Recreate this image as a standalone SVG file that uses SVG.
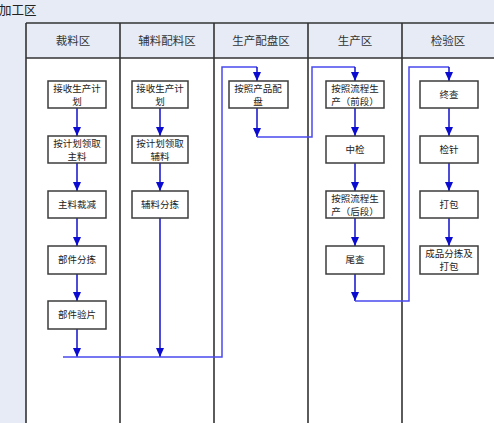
<svg xmlns="http://www.w3.org/2000/svg" width="494" height="423" viewBox="0 0 494 423">
<defs>
<marker id="ahd" markerUnits="userSpaceOnUse" markerWidth="9" markerHeight="8" refX="9" refY="4" orient="auto" viewBox="0 0 9 8"><path d="M0,0 L9,4 L0,8 Z" fill="#0a0ad0"/></marker>
</defs>
<style>
.box{fill:#fff;stroke:#3c3c3c;stroke-width:1.5}
.t{font-family:"Noto Sans CJK SC","Noto Sans",sans-serif;font-size:9.5px;fill:#222;text-anchor:middle}
.h{font-family:"Noto Sans CJK SC","Noto Sans",sans-serif;font-size:11.5px;fill:#333;text-anchor:middle}
.lane{stroke:#333;stroke-width:1.6;fill:none}
.a{stroke:#1010c8;stroke-width:1.5;fill:none;marker-end:url(#ahd)}
.c{stroke:#4a4aee;stroke-width:1.5;fill:none}
</style>
<rect x="0" y="0" width="494" height="423" fill="#fff"/>
<rect x="0" y="0" width="494" height="23" fill="#e6ebf6"/>
<rect x="0" y="23" width="26" height="400" fill="#e6ebf6"/>
<rect x="26" y="23" width="468" height="35" fill="#e6ebf6"/>
<text x="-1" y="15" font-family="'Noto Sans CJK SC',sans-serif" font-size="12.5" fill="#222">加工区</text>
<g id="lanes">
<line class="lane" x1="26" y1="23" x2="494" y2="23"/>
<line class="lane" x1="26" y1="58" x2="494" y2="58"/>
<line class="lane" x1="26" y1="23" x2="26" y2="423"/>
<line class="lane" x1="120" y1="23" x2="120" y2="423"/>
<line class="lane" x1="214" y1="23" x2="214" y2="423"/>
<line class="lane" x1="308" y1="23" x2="308" y2="423"/>
<line class="lane" x1="402" y1="23" x2="402" y2="423"/>
<text class="h" x="73" y="45">裁料区</text>
<text class="h" x="167" y="45">辅料配料区</text>
<text class="h" x="261" y="45">生产配盘区</text>
<text class="h" x="355" y="45">生产区</text>
<text class="h" x="448" y="45">检验区</text>
</g>
<g id="connectors">
<path class="a" d="M77,108 V136"/>
<path class="a" d="M77,163 V191"/>
<path class="a" d="M77,218 V246"/>
<path class="a" d="M77,274 V301"/>
<path class="a" d="M77,329 V357"/>
<path class="a" d="M160,108 V136"/>
<path class="a" d="M160,163 V191"/>
<path class="a" d="M160,218 V357"/>
<path class="c" d="M63,357 H222 V67 H257"/>
<path class="a" d="M257,67 V81"/>
<path class="a" d="M257,108 V137"/>
<path class="c" d="M257,137 H312 V67 H355"/>
<path class="a" d="M355,67 V81"/>
<path class="a" d="M355,108 V136"/>
<path class="a" d="M355,163 V191"/>
<path class="a" d="M355,218 V246"/>
<path class="a" d="M355,274 V301"/>
<path class="c" d="M355,301 H409 V67 H449"/>
<path class="a" d="M449,67 V81"/>
<path class="a" d="M449,108 V136"/>
<path class="a" d="M449,163 V191"/>
<path class="a" d="M449,218 V246"/>
</g>
<g id="n1"><rect class="box" x="48" y="81" width="58" height="27"/><text class="t" x="77" y="92">接收生产计</text><text class="t" x="77" y="105">划</text></g>
<g id="n2"><rect class="box" x="48" y="136" width="58" height="27"/><text class="t" x="77" y="147">按计划领取</text><text class="t" x="77" y="160">主料</text></g>
<g id="n3"><rect class="box" x="48" y="191" width="58" height="27"/><text class="t" x="77" y="208">主料裁减</text></g>
<g id="n4"><rect class="box" x="48" y="246" width="58" height="28"/><text class="t" x="77" y="263">部件分拣</text></g>
<g id="n5"><rect class="box" x="48" y="301" width="58" height="28"/><text class="t" x="77" y="318">部件验片</text></g>
<g id="n6"><rect class="box" x="132" y="81" width="56" height="27"/><text class="t" x="160" y="92">接收生产计</text><text class="t" x="160" y="105">划</text></g>
<g id="n7"><rect class="box" x="132" y="136" width="56" height="27"/><text class="t" x="160" y="147">按计划领取</text><text class="t" x="160" y="160">辅料</text></g>
<g id="n8"><rect class="box" x="132" y="191" width="56" height="27"/><text class="t" x="160" y="208">辅料分拣</text></g>
<g id="n9"><rect class="box" x="229" y="81" width="59" height="27"/><text class="t" x="258" y="92">按照产品配</text><text class="t" x="258" y="105">盘</text></g>
<g id="n10"><rect class="box" x="326" y="81" width="58" height="27"/><text class="t" x="355" y="92">按照流程生</text><text class="t" x="355" y="105">产（前段）</text></g>
<g id="n11"><rect class="box" x="326" y="136" width="58" height="27"/><text class="t" x="355" y="153">中检</text></g>
<g id="n12"><rect class="box" x="326" y="191" width="58" height="27"/><text class="t" x="355" y="202">按照流程生</text><text class="t" x="355" y="215">产（后段）</text></g>
<g id="n13"><rect class="box" x="326" y="246" width="58" height="28"/><text class="t" x="355" y="263">尾查</text></g>
<g id="n14"><rect class="box" x="420" y="81" width="58" height="27"/><text class="t" x="449" y="98">终查</text></g>
<g id="n15"><rect class="box" x="420" y="136" width="58" height="27"/><text class="t" x="449" y="153">检针</text></g>
<g id="n16"><rect class="box" x="420" y="191" width="58" height="27"/><text class="t" x="449" y="208">打包</text></g>
<g id="n17"><rect class="box" x="420" y="246" width="58" height="28"/><text class="t" x="449" y="257">成品分拣及</text><text class="t" x="449" y="270">打包</text></g>
</svg>
